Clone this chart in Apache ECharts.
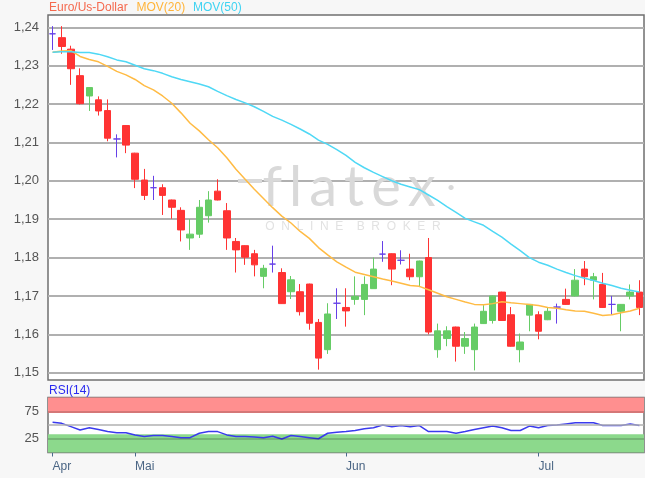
<!DOCTYPE html>
<html><head><meta charset="utf-8">
<script src="https://cdn.jsdelivr.net/npm/echarts@6/dist/echarts.min.js"></script>
<style>html,body{margin:0;padding:0;background:#f7f7f7}#c{width:645px;height:478px}</style>
</head><body><div id="c"></div>
<script>
const dates = [
'2018-04-18','2018-04-19','2018-04-20','2018-04-23','2018-04-24','2018-04-25','2018-04-26','2018-04-27','2018-04-30',
'2018-05-01','2018-05-02','2018-05-03','2018-05-04','2018-05-07','2018-05-08','2018-05-09','2018-05-10','2018-05-11',
'2018-05-14','2018-05-15','2018-05-16','2018-05-17','2018-05-18','2018-05-21','2018-05-22','2018-05-23','2018-05-24','2018-05-25',
'2018-05-28','2018-05-29','2018-05-30','2018-05-31',
'2018-06-01','2018-06-04','2018-06-05','2018-06-06','2018-06-07','2018-06-08','2018-06-11','2018-06-12','2018-06-13','2018-06-14','2018-06-15',
'2018-06-18','2018-06-19','2018-06-20','2018-06-21','2018-06-22','2018-06-25','2018-06-26','2018-06-27','2018-06-28','2018-06-29',
'2018-07-02','2018-07-03','2018-07-04','2018-07-05','2018-07-06','2018-07-09','2018-07-10','2018-07-11','2018-07-12','2018-07-13',
'2018-07-16','2018-07-17'];
const monthNames = ['Jan','Feb','Mär','Apr','Mai','Jun','Jul','Aug','Sep','Okt','Nov','Dez'];

const open  = [1.2383,1.2373,1.2343,1.2274,1.2221,1.2211,1.2183,1.2109,1.2144,1.2072,1.2002,1.1982,1.1982,1.1950,1.1923,1.1851,1.1861,1.1909,1.1973,1.1922,1.1842,1.1831,1.1810,1.1751,1.1783,1.1761,1.1711,1.1711,1.1731,1.1631,1.1560,1.1681,1.1670,1.1691,1.1691,1.1719,1.1809,1.1810,1.1793,1.1770,1.1750,1.1800,1.1560,1.1589,1.1619,1.1569,1.1560,1.1628,1.1636,1.1710,1.1651,1.1560,1.1650,1.1651,1.1638,1.1671,1.1691,1.1700,1.1770,1.1741,1.1730,1.1678,1.1660,1.1700,1.1710];
const close = [1.2383,1.2350,1.2292,1.2201,1.2243,1.2182,1.2111,1.2109,1.2093,1.2004,1.1962,1.1982,1.1962,1.1931,1.1872,1.1861,1.1931,1.1950,1.1950,1.1851,1.1820,1.1801,1.1781,1.1772,1.1783,1.1680,1.1742,1.1659,1.1629,1.1538,1.1653,1.1681,1.1661,1.1699,1.1730,1.1770,1.1809,1.1770,1.1793,1.1750,1.1791,1.1606,1.1609,1.1609,1.1569,1.1589,1.1619,1.1660,1.1700,1.1636,1.1569,1.1580,1.1678,1.1608,1.1660,1.1671,1.1678,1.1741,1.1750,1.1750,1.1670,1.1678,1.1678,1.1710,1.1670];
const low   = [1.2341,1.2331,1.2250,1.2199,1.2182,1.2170,1.2103,1.2061,1.2072,1.1981,1.1950,1.1950,1.1911,1.1901,1.1842,1.1820,1.1851,1.1891,1.1949,1.1820,1.1761,1.1781,1.1751,1.1720,1.1761,1.1679,1.1692,1.1649,1.1612,1.1508,1.1549,1.1640,1.1620,1.1677,1.1650,1.1719,1.1789,1.1728,1.1782,1.1741,1.1723,1.1600,1.1539,1.1569,1.1529,1.1549,1.1506,1.1627,1.1628,1.1635,1.1568,1.1527,1.1608,1.1587,1.1637,1.1628,1.1677,1.1699,1.1728,1.1691,1.1669,1.1651,1.1608,1.1691,1.1650];
const high  = [1.2403,1.2403,1.2352,1.2293,1.2244,1.2220,1.2212,1.2121,1.2145,1.2073,1.2031,1.2013,1.1991,1.1951,1.1931,1.1900,1.1950,1.1973,1.2004,1.1942,1.1851,1.1832,1.1820,1.1781,1.1831,1.1772,1.1752,1.1731,1.1732,1.1640,1.1681,1.1720,1.1720,1.1751,1.1751,1.1800,1.1843,1.1811,1.1819,1.1810,1.1792,1.1851,1.1628,1.1621,1.1620,1.1606,1.1628,1.1676,1.1701,1.1711,1.1671,1.1602,1.1679,1.1660,1.1669,1.1680,1.1719,1.1770,1.1791,1.1760,1.1760,1.1700,1.1679,1.1730,1.1741];

const mov20 = [1.2335,1.2338,1.2339,1.2324,1.2316,1.2310,1.2298,1.2285,1.2276,1.2264,1.2248,1.2237,1.2221,1.2202,1.2177,1.2150,1.2130,1.2107,1.2086,1.2060,1.2030,1.2004,1.1978,1.1954,1.1930,1.1908,1.1890,1.1868,1.1850,1.1826,1.1807,1.1789,1.1775,1.1762,1.1756,1.1750,1.1744,1.1739,1.1733,1.1727,1.1725,1.1716,1.1707,1.1698,1.1691,1.1684,1.1678,1.1677,1.1680,1.1685,1.1682,1.1680,1.1678,1.1675,1.1670,1.1668,1.1664,1.1661,1.1660,1.1655,1.1649,1.1651,1.1656,1.1661,1.1668];
const mov50 = [1.2335,1.2336,1.2336,1.2334,1.2334,1.2330,1.2323,1.2315,1.2310,1.2301,1.2292,1.2287,1.2280,1.2271,1.2264,1.2258,1.2252,1.2245,1.2233,1.2222,1.2212,1.2203,1.2193,1.2181,1.2168,1.2158,1.2147,1.2135,1.2122,1.2106,1.2095,1.2081,1.2066,1.2048,1.2034,1.2022,1.2011,1.2000,1.1991,1.1984,1.1977,1.1963,1.1949,1.1933,1.1918,1.1902,1.1893,1.1884,1.1868,1.1853,1.1835,1.1818,1.1800,1.1788,1.1780,1.1770,1.1761,1.1753,1.1746,1.1740,1.1733,1.1727,1.1720,1.1715,1.1710];
const rsi = [55,53,47,41,45,42,38,36,36,32,29,31,31,29,27,27,35,38,38,32,29,29,28,27,29.5,24.5,31,29,27,25,35,37,38,40,43,45,50,47,49,47,49,38,38,38,35,38,42,45,48,45,40,40,48,45,49,50,52,54,54,54,49,49,49,52,49];

const yTicks = [1.15,1.16,1.17,1.18,1.19,1.20,1.21,1.22,1.23,1.24];
const rsiTicks = [25,75];

const UP='#66cc66', DOWN='#ff3333', DOJI='#6640e8';
const candles = dates.map((d,i)=>{
  const item = {value:[open[i],close[i],low[i],high[i]]};
  if (open[i]===close[i]) item.itemStyle={color:DOJI,color0:DOJI,borderColor:DOJI,borderColor0:DOJI,borderColorDoji:DOJI};
  return item;
});
const isMonthStart = (i)=> i===0 || dates[i].slice(5,7)!==dates[i-1].slice(5,7);
const FONT='Liberation Sans, Arial, sans-serif';
const TS='\u2009';

const chart = echarts.init(document.getElementById('c'), null, {renderer:'canvas'});
chart.setOption({
  animation:false,
  backgroundColor:'#f7f7f7',
  textStyle:{fontFamily:FONT},
  grid:[
    {left:48, right:1, top:15, height:365, show:true, backgroundColor:'#ffffff', borderColor:'#707070', borderWidth:1.5},
    {left:48, right:1, top:397.5, height:55, show:true, backgroundColor:'#ffffff', borderColor:'#707070', borderWidth:1.5}
  ],
  xAxis:[
    {type:'category', gridIndex:0, data:dates, boundaryGap:true, axisLine:{show:false}, axisTick:{show:false}, axisLabel:{show:false}, splitLine:{show:false}},
    {type:'category', gridIndex:1, data:dates, boundaryGap:true, axisLine:{show:false},
     axisTick:{show:true, alignWithLabel:true, interval:(i)=>isMonthStart(i), length:4, lineStyle:{color:'#4a6a8a', width:1}},
     axisLabel:{interval:(i)=>isMonthStart(i), formatter:(v)=>monthNames[parseInt(v.slice(5,7),10)-1], align:'left', color:'#4a6584', fontSize:12, margin:8, fontFamily:FONT},
     splitLine:{show:false}}
  ],
  yAxis:[
    {type:'value', gridIndex:0, min:1.1481, max:1.2432, axisLine:{show:false},
     axisTick:{show:false, customValues:yTicks},
     axisLabel:{customValues:yTicks, formatter:(v)=>v.toFixed(2).replace('.',','), color:'#555555', fontSize:13, margin:9, fontFamily:FONT},
     splitLine:{show:true, lineStyle:{color:'#b0b0b0', width:2}}},
    {type:'value', gridIndex:1, min:0, max:100, axisLine:{show:false},
     axisTick:{show:false, customValues:rsiTicks},
     axisLabel:{customValues:rsiTicks, color:'#555555', fontSize:13, margin:9, fontFamily:FONT},
     splitLine:{show:false}}
  ],
  graphic:[
    {type:'text', z:1, x:349, y:188, style:{text:['f','l','a','t','e','x'].join(TS), fill:'#d9d9d9', font:'56px Lato, sans-serif', align:'center', verticalAlign:'middle'}},
    {type:'rect', z:1, shape:{x:238, y:179, width:24, height:4}, style:{fill:'#d9d9d9'}},
    {type:'text', z:1, x:451, y:187, style:{text:'\u2022', fill:'#d9d9d9', font:'14px Lato, sans-serif', align:'center', verticalAlign:'middle'}},
    {type:'text', z:1, x:353, y:227, style:{text:'O  N  L  I  N  E    B  R  O  K  E  R', fill:'#e2e2e2', font:'12px '+FONT, align:'center', verticalAlign:'middle'}},
    {type:'text', z:5, x:49, y:8, style:{text:'Euro/Us-Dollar', fill:'#f5694e', font:'12px '+FONT, verticalAlign:'middle'}},
    {type:'text', z:5, x:136.5, y:8, style:{text:'MOV(20)', fill:'#ffb43a', font:'12px '+FONT, verticalAlign:'middle'}},
    {type:'text', z:5, x:193, y:8, style:{text:'MOV(50)', fill:'#3fd3f2', font:'12px '+FONT, verticalAlign:'middle'}},
    {type:'text', z:5, x:49, y:391, style:{text:'RSI(14)', fill:'#2a2af0', font:'12px '+FONT, verticalAlign:'middle'}}
  ],
  series:[
    {type:'candlestick', name:'Euro/Us-Dollar', xAxisIndex:0, yAxisIndex:0, data:candles, barWidth:7,
     itemStyle:{color:UP, color0:DOWN, borderColor:UP, borderColor0:DOWN, borderColorDoji:DOJI, borderWidth:1}},
    {type:'line', name:'MOV(20)', xAxisIndex:0, yAxisIndex:0, data:mov20, symbol:'none', lineStyle:{color:'#ffbb44', width:1.5}, z:3},
    {type:'line', name:'MOV(50)', xAxisIndex:0, yAxisIndex:0, data:mov50, symbol:'none', lineStyle:{color:'#4fd8f5', width:1.5}, z:3},
    {type:'line', name:'RSI(14)', xAxisIndex:1, yAxisIndex:1, data:rsi, symbol:'none', lineStyle:{color:'#3a3aee', width:1.5}, z:3,
     markArea:{silent:true, data:[
       [{yAxis:72, itemStyle:{color:'#ff8f8f'}},{yAxis:100}],
       [{yAxis:0, itemStyle:{color:'#8cd98c'}},{yAxis:33}]
     ]},
     markLine:{silent:true, symbol:'none', label:{show:false}, data:[
       {yAxis:25, lineStyle:{color:'rgba(0,0,0,0.22)', width:1.5, type:'solid'}},
       {yAxis:50, lineStyle:{color:'#b0b0b0', width:1.5, type:'solid'}},
       {yAxis:75, lineStyle:{color:'rgba(0,0,0,0.22)', width:1.5, type:'solid'}}
     ]}}
  ]
});
</script></body></html>
